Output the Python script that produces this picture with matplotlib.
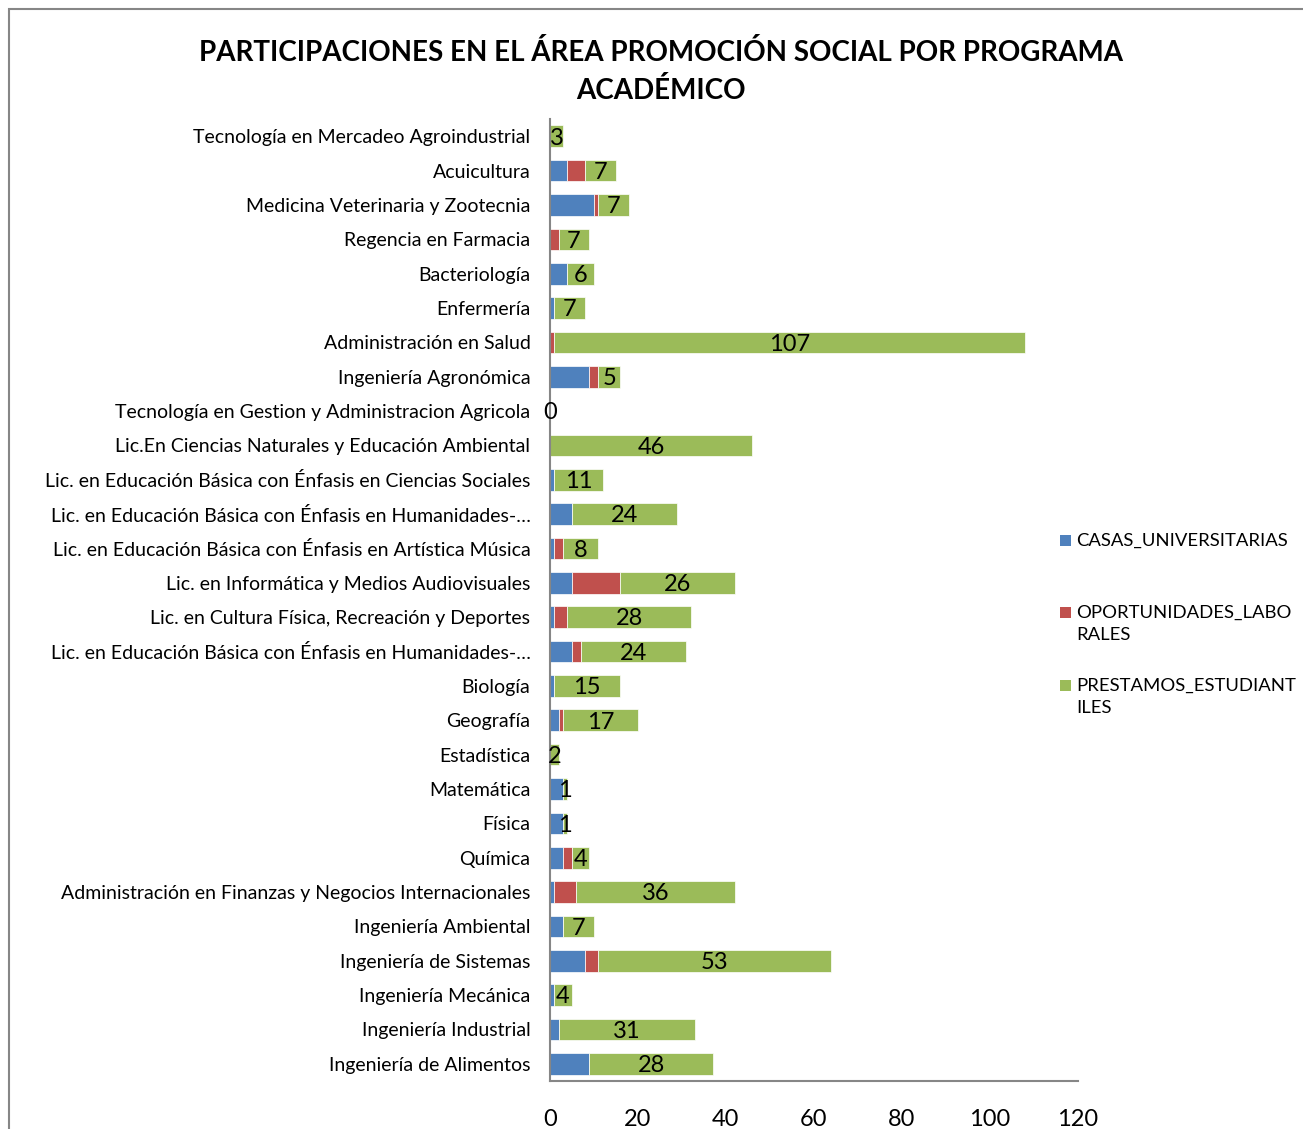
import matplotlib.pyplot as plt
from matplotlib.patches import Rectangle

plt.rcParams['font.family'] = ['Lato', 'DejaVu Sans']

# ── Datos (de arriba hacia abajo) ─────────────────────────────────────
programas = [
    "Tecnología en Mercadeo Agroindustrial",
    "Acuicultura",
    "Medicina Veterinaria y Zootecnia",
    "Regencia en Farmacia",
    "Bacteriología",
    "Enfermería",
    "Administración en Salud",
    "Ingeniería Agronómica",
    "Tecnología en Gestion y Administracion Agricola",
    "Lic.En Ciencias Naturales y Educación Ambiental",
    "Lic. en Educación Básica con Énfasis en Ciencias Sociales",
    "Lic. en Educación Básica con Énfasis en Humanidades-…",
    "Lic. en Educación Básica con Énfasis en Artística Música",
    "Lic. en Informática y Medios Audiovisuales",
    "Lic. en Cultura Física, Recreación y Deportes",
    "Lic. en Educación Básica con Énfasis en Humanidades-…",
    "Biología",
    "Geografía",
    "Estadística",
    "Matemática",
    "Física",
    "Química",
    "Administración en Finanzas y Negocios Internacionales",
    "Ingeniería Ambiental",
    "Ingeniería de Sistemas",
    "Ingeniería Mecánica",
    "Ingeniería Industrial",
    "Ingeniería de Alimentos",
]
casas = [0, 4, 10, 0, 4, 1, 0, 9, 0, 0, 1, 5, 1, 5, 1, 5, 1, 2, 0, 3, 3, 3, 1, 3, 8, 1, 2, 9]
oportunidades = [0, 4, 1, 2, 0, 0, 1, 2, 0, 0, 0, 0, 2, 11, 3, 2, 0, 1, 0, 0, 0, 2, 5, 0, 3, 0, 0, 0]
prestamos = [3, 7, 7, 7, 6, 7, 107, 5, 0, 46, 11, 24, 8, 26, 28, 24, 15, 17, 2, 1, 1, 4, 36, 7, 53, 4, 31, 28]

series = ["CASAS_UNIVERSITARIAS", "OPORTUNIDADES_LABO\nRALES", "PRESTAMOS_ESTUDIANT\nILES"]
colores = ["#4F81BD", "#C0504D", "#9BBB59"]

# ── Gráfico ───────────────────────────────────────────────────────────
W, H = 1303, 1129
fig = plt.figure(figsize=(W / 100, H / 100), dpi=100)
fig.patch.set_facecolor("white")
ax = fig.add_axes([0.422, 0.0425, 0.405, 0.852])

y = list(range(len(programas)))
izq2 = [a + b for a, b in zip(casas, oportunidades)]
ax.barh(y, casas, height=0.63, color=colores[0], edgecolor="white", linewidth=0.5)
ax.barh(y, oportunidades, left=casas, height=0.63, color=colores[1],
        edgecolor="white", linewidth=0.5)
ax.barh(y, prestamos, left=izq2, height=0.63, color=colores[2],
        edgecolor="white", linewidth=0.5)

# etiquetas solo en la serie de préstamos
for yi, l, v in zip(y, izq2, prestamos):
    ax.text(l + v / 2, yi + 0.05, str(v), ha="center", va="center",
            fontsize=17, color="black")

ax.set_xlim(0, 120)
ax.set_ylim(len(programas) - 0.5, -0.5)
ax.set_xticks(range(0, 121, 20))
ax.set_yticks(y)
ax.set_yticklabels(programas, fontsize=14)
ax.tick_params(axis="x", labelsize=17, length=0, pad=20)
ax.tick_params(axis="y", length=0, pad=14)
for s in ["top", "right"]:
    ax.spines[s].set_visible(False)
for s in ["left", "bottom"]:
    ax.spines[s].set_color("#868686")
    ax.spines[s].set_linewidth(1.5)

fig.text(0.507, 0.937, "PARTICIPACIONES EN EL ÁREA PROMOCIÓN SOCIAL POR PROGRAMA\nACADÉMICO",
         ha="center", va="center", fontsize=20, fontweight="bold",
         linespacing=1.5)

# leyenda manual (cuadro alineado con la primera línea)
for lab, c, yc in zip(series, colores, [540, 612, 685]):
    fig.patches.append(Rectangle((1060 / W, 1 - (yc + 6) / H), 11 / W, 11 / H,
                                 transform=fig.transFigure, facecolor=c,
                                 edgecolor="none"))
    fig.text(1076 / W, 1 - (yc - 7) / H, lab, ha="left", va="top",
             fontsize=13.3, linespacing=1.45)

# borde del área del gráfico
fig.patches.append(Rectangle((9 / W, -0.1), 1.2, 1.1 - 9 / H,
                             transform=fig.transFigure, fill=False,
                             edgecolor="#868686", linewidth=1.5))

plt.savefig("out.png", dpi=100, facecolor="white")
